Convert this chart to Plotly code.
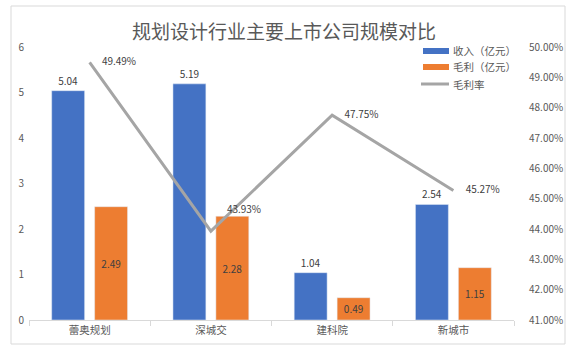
import plotly.graph_objects as go

categories = ["蕾奥规划", "深城交", "建科院", "新城市"]
revenue = [5.04, 5.19, 1.04, 2.54]
profit = [2.49, 2.28, 0.49, 1.15]
margin = [49.49, 43.93, 47.75, 45.27]
series_names = ["收入（亿元）", "毛利（亿元）", "毛利率"]
title_text = "规划设计行业主要上市公司规模对比"

BLUE = "#4472C4"
ORANGE = "#ED7D31"
GRAY = "#A5A5A5"
TXT = "#595959"
LBL = "#404040"
CJK = "Noto Sans CJK SC, sans-serif"

fig = go.Figure()
fig.add_trace(go.Bar(
    x=categories, y=revenue, name=series_names[0], marker_color=BLUE,
    text=[f"{v:.2f}" for v in revenue], textposition="outside",
    textfont=dict(color=LBL, size=10, family=CJK), cliponaxis=False,
    showlegend=False,
))
fig.add_trace(go.Bar(
    x=categories, y=profit, name=series_names[1], marker_color=ORANGE,
    text=[f"{v:.2f}" for v in profit], textposition="inside",
    insidetextanchor="middle",
    textfont=dict(color=LBL, size=10, family=CJK), cliponaxis=False,
    showlegend=False,
))
fig.add_trace(go.Scatter(
    x=categories, y=margin, name=series_names[2], yaxis="y2",
    mode="lines+markers+text",
    line=dict(color=GRAY, width=3),
    marker=dict(size=[18, 24, 18, 18], color="rgba(0,0,0,0)",
                line=dict(width=0, color="rgba(0,0,0,0)")),
    text=[f"{v:.2f}%" for v in margin],
    textposition=["middle right", "top right", "middle right", "middle right"],
    textfont=dict(color=LBL, size=10, family=CJK), cliponaxis=False,
    showlegend=False,
))

# plot area geometry (px) for paper-coordinate decorations
W, H = 578, 352
L, R, T, B = 29, 64, 47, 32
pw, ph = W - L - R, H - T - B
def px(x):
    return (x - L) / pw
def py(y):
    return (H - B - y) / ph

shapes = [
    dict(type="rect", xref="paper", yref="paper", x0=px(11), x1=px(565),
         y0=py(344), y1=py(6), line=dict(color="#D9D9D9", width=1), layer="below"),
    dict(type="rect", xref="paper", yref="paper", x0=px(423), x1=px(449),
         y0=py(54), y1=py(48), fillcolor=BLUE, line=dict(width=0)),
    dict(type="rect", xref="paper", yref="paper", x0=px(423), x1=px(449),
         y0=py(70), y1=py(64), fillcolor=ORANGE, line=dict(width=0)),
    dict(type="line", xref="paper", yref="paper", x0=px(421), x1=px(449),
         y0=py(84), y1=py(84), line=dict(color=GRAY, width=3)),
]
annotations = [
    dict(xref="paper", yref="paper", x=px(451), y=py(51), text=series_names[0],
         showarrow=False, xanchor="left", yanchor="middle",
         font=dict(color=TXT, size=10.5, family=CJK)),
    dict(xref="paper", yref="paper", x=px(451), y=py(67), text=series_names[1],
         showarrow=False, xanchor="left", yanchor="middle",
         font=dict(color=TXT, size=10.5, family=CJK)),
    dict(xref="paper", yref="paper", x=px(451), y=py(84), text=series_names[2],
         showarrow=False, xanchor="left", yanchor="middle",
         font=dict(color=TXT, size=10.5, family=CJK)),
]

fig.update_layout(
    width=W, height=H,
    margin=dict(l=L, r=R, t=T, b=B),
    paper_bgcolor="white", plot_bgcolor="white",
    title=dict(text=title_text, x=284 / W, xref="container", xanchor="center",
               y=1 - 32 / H, yref="container", yanchor="middle",
               font=dict(color=TXT, size=19, family=CJK)),
    barmode="group", bargap=0.292, bargroupgap=0.233,
    shapes=shapes, annotations=annotations,
    font=dict(family=CJK, color=TXT, size=10),
    xaxis=dict(showline=True, linecolor="#D9D9D9", linewidth=1,
               ticks="outside", tickson="boundaries", ticklen=5,
               tickcolor="#D9D9D9", showgrid=False,
               tickfont=dict(size=10.5, color=TXT, family=CJK)),
    yaxis=dict(range=[0, 6], dtick=1, showgrid=False, zeroline=False,
               showline=False, tickfont=dict(size=10, color=TXT),
               ticklabelstandoff=4),
    yaxis2=dict(range=[41, 50], dtick=1, overlaying="y", side="right",
                showgrid=False, zeroline=False, showline=False,
                tickformat=".2f", ticksuffix="%",
                tickfont=dict(size=10, color=TXT), ticklabelstandoff=14),
)

fig.write_html("out.html")
